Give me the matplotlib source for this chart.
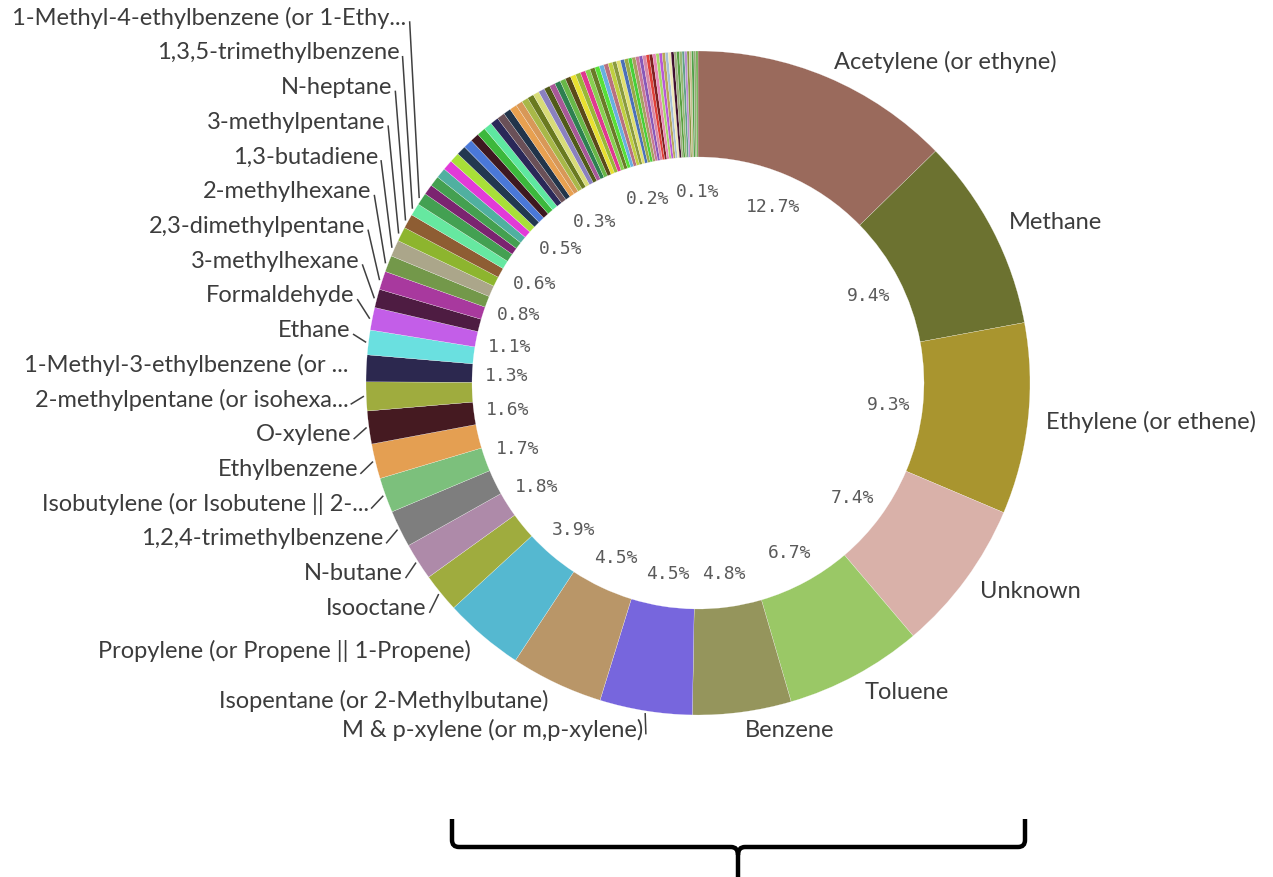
import numpy as np
import matplotlib.pyplot as plt
from matplotlib.path import Path
from matplotlib.patches import PathPatch

# named compounds, largest first (share of total, %)
compounds = [
    "Acetylene (or ethyne)", "Methane", "Ethylene (or ethene)", "Unknown",
    "Toluene", "Benzene", "M & p-xylene (or m,p-xylene)",
    "Isopentane (or 2-Methylbutane)", "Propylene (or Propene || 1-Propene)",
    "Isooctane", "N-butane", "1,2,4-trimethylbenzene",
    "Isobutylene (or Isobutene || 2-...", "Ethylbenzene", "O-xylene",
    "2-methylpentane (or isohexa...", "1-Methyl-3-ethylbenzene (or ...",
    "Ethane", "Formaldehyde", "3-methylhexane", "2,3-dimethylpentane",
    "2-methylhexane", "1,3-butadiene", "3-methylpentane", "N-heptane",
    "1,3,5-trimethylbenzene", "1-Methyl-4-ethylbenzene (or 1-Ethy...",
]
named_shares = [
    12.7, 9.4, 9.3, 7.4, 6.7, 4.8, 4.5, 4.5, 3.9,
    1.9, 1.8, 1.8, 1.7, 1.7, 1.6, 1.4, 1.3, 1.2, 1.1,
    0.9, 0.9, 0.8, 0.8, 0.7, 0.7, 0.6, 0.6,
]
# remaining minor compounds (not labelled on the ring)
minor_shares = [
    0.5, 0.5, 0.5, 0.5, 0.48, 0.46, 0.45, 0.43, 0.42, 0.4, 0.4, 0.38, 0.36, 0.35,
    0.33, 0.32, 0.31, 0.3, 0.3, 0.29, 0.28, 0.28, 0.27, 0.27, 0.26, 0.25, 0.25,
    0.24, 0.24, 0.23, 0.22, 0.22, 0.21,
    0.2, 0.2, 0.19, 0.19, 0.18, 0.18, 0.17, 0.17, 0.17, 0.16, 0.16, 0.16,
    0.15, 0.15, 0.15, 0.14, 0.14, 0.14, 0.13, 0.13, 0.13, 0.12, 0.12,
    0.11, 0.11, 0.11, 0.1, 0.1,
]
shares = named_shares + minor_shares

colors = [
    "#9a6a5c", "#6c7230", "#a9952f", "#d9b1a9", "#9ac866", "#95955c", "#7766dd",
    "#b99668", "#55b8d0", "#9fac3e", "#ae8aa9", "#7e7e7e", "#7cc07c", "#e49f52",
    "#451a21", "#9fac3e", "#2c284f", "#6ae0e0", "#c35ee8", "#4e1c42", "#a8399e",
    "#73984a", "#aba68a", "#8db52e", "#8e5d33", "#66e8a0", "#43a052",
    # minor compounds
    "#7b2470", "#44a050", "#50b0a0", "#e23ad8", "#a8e038", "#223850", "#4a78d8",
    "#3e1820", "#3cb83c", "#5ee8a0", "#2a2858", "#6a5058", "#22344a", "#e8a050",
    "#d89858", "#a8b848", "#6a7a20", "#d8dc78", "#8a80c0", "#505a18", "#a85898",
    "#2e8050", "#68b848", "#5a4a18", "#e8e030", "#98b838", "#e03890", "#88d050",
    "#6a7a28", "#58e038", "#68b0e0", "#b87080", "#c0d040", "#8a9a40", "#e0e070",
    "#4a70b8", "#9aaa48", "#48d038", "#a8a060", "#c87898", "#8858b8", "#d888a8",
    "#e04038", "#802020", "#e888b8", "#a8d868", "#b858d8", "#b8a858", "#a8c0d8",
    "#f0e8b8", "#401030", "#a0b080", "#58a040", "#98b878", "#60a088", "#b890d0",
    "#889840", "#c8c090", "#50a048", "#98a878", "#70b050",
]

# slices that carry a percentage inside the ring
pct_shown = [0, 1, 2, 3, 4, 5, 6, 7, 8, 10, 12, 14, 16, 18, 21, 25, 32, 41, 59, 87]
# labels stacked in a column on the left side
stacked = list(range(9, len(compounds)))
leader = [6] + [i for i in stacked if i != 16]

W, H = 1273, 878
fig = plt.figure(figsize=(W / 100, H / 100), dpi=100)
ax = fig.add_axes([0, 0, 1, 1])

cx, cy = 698, H - 384
r_out, ring = 332, 106
r_pct, r_lab, r_lead = 192, 350, 335

wedges, _ = ax.pie(shares, colors=colors, startangle=90, counterclock=False,
                   radius=r_out, center=(cx, cy),
                   wedgeprops=dict(width=ring, edgecolor="white", linewidth=0.15))
ax.set_xlim(0, W)
ax.set_ylim(0, H)
ax.set_aspect("equal")
ax.axis("off")

mids = [np.deg2rad((w.theta1 + w.theta2) / 2) for w in wedges]
total = sum(shares)

for i in pct_shown:
    a = mids[i]
    ax.text(cx + r_pct * np.cos(a), cy + r_pct * np.sin(a),
            f"{100 * shares[i] / total:.1f}%", ha="center", va="center",
            fontsize=13, family="DejaVu Sans Mono", color="#5a5a5a")

y_bottom = cy + r_lab * np.sin(mids[stacked[0]]) - 3
stack_y = np.linspace(y_bottom, H - 18, len(stacked))

for i, name in enumerate(compounds):
    a = mids[i]
    x = cx + r_lab * np.cos(a)
    if i in stacked:
        y = stack_y[stacked.index(i)]
    else:
        y = cy + r_lab * np.sin(a)
    ha = "left" if x > cx else "right"
    ax.text(x, y, name, ha=ha, va="center", fontsize=17,
            family="Lato", color="#3c3c3c")
    if i in leader:
        ax.plot([x + 3, cx + r_lead * np.cos(a)], [y - 5, cy + r_lead * np.sin(a)],
                color="#404040", lw=1.1)

# curly brace under the chart
def flip(pts):
    return [(px, H - py) for px, py in pts]

brace_pts = flip([
    (452, 820), (452, 841), (452, 848), (459, 848), (731, 848), (738, 848),
    (738, 856), (738, 880),
    (1025, 820), (1025, 841), (1025, 848), (1018, 848), (745, 848), (738, 848),
    (738, 856),
])
codes = [Path.MOVETO, Path.LINETO, Path.CURVE3, Path.CURVE3, Path.LINETO,
         Path.CURVE3, Path.CURVE3, Path.LINETO,
         Path.MOVETO, Path.LINETO, Path.CURVE3, Path.CURVE3, Path.LINETO,
         Path.CURVE3, Path.CURVE3]
ax.add_patch(PathPatch(Path(brace_pts, codes), facecolor="none",
                       edgecolor="black", lw=3.2, clip_on=False))

fig.savefig("out.png", dpi=100)
